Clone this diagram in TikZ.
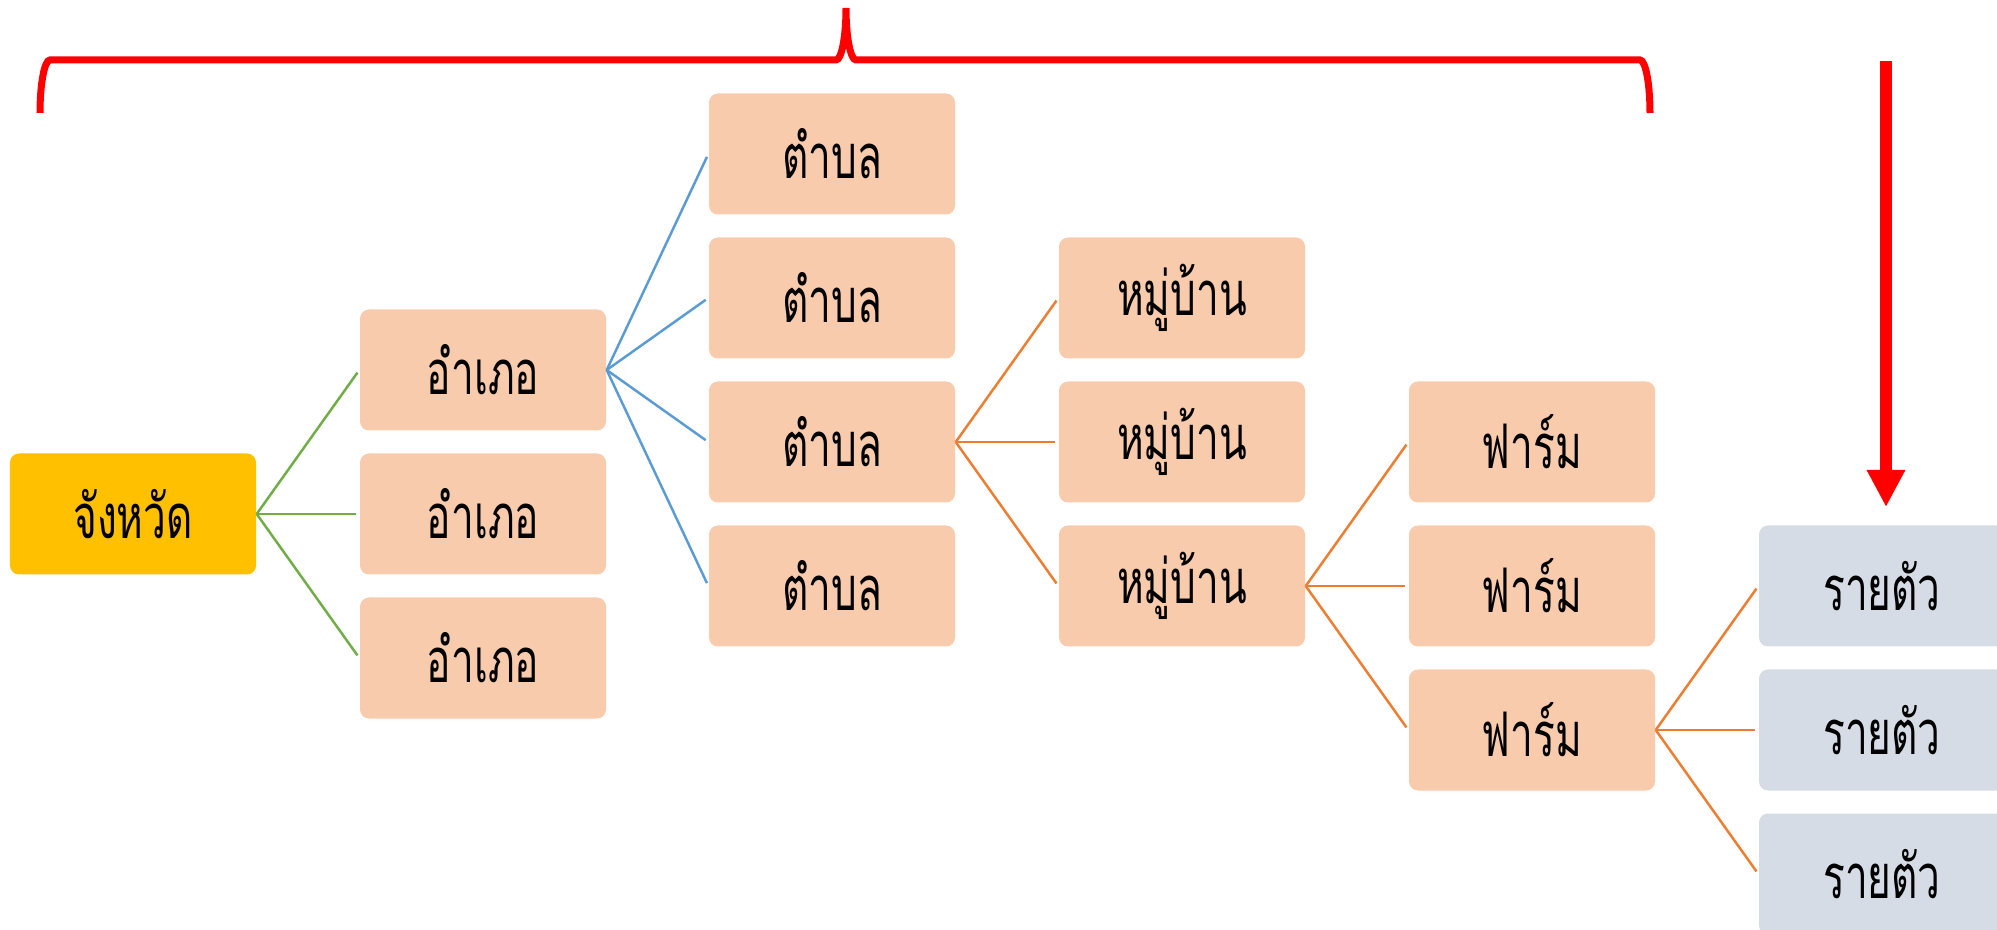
\documentclass[tikz,border=0pt]{standalone}
\usepackage{fontspec}
\usepackage{tikz}
\usetikzlibrary{arrows.meta}
\newfontfamily\thaifont[Script=Thai, FakeStretch=0.66]{Loma}
\definecolor{Gold}{HTML}{FFC000}
\definecolor{Peach}{HTML}{F8CBAD}
\definecolor{Slate}{HTML}{D6DCE5}
\definecolor{LeafGreen}{HTML}{70AD47}
\definecolor{SkyBlue}{HTML}{5B9BD5}
\definecolor{Tangerine}{HTML}{ED7D31}

\begin{document}
\begin{tikzpicture}[
    box/.style={rounded corners=0.09cm, minimum width=2.46cm, minimum height=1.21cm,
        inner sep=0pt, font=\thaifont\fontsize{17.5}{19}\selectfont},
    link/.style={line width=0.7pt, shorten >=0.9pt}
]
    % Page frame
    \clip (0,0) rectangle (19.97,-9.30);

    % Province
    \node[box, fill=Gold] (prov) at (1.33,-5.14) {จังหวัด};

    % Districts, sub-districts, villages, farms, animals
    \foreach \r [count=\i] in {-2,0,2} {
        \node[box, fill=Peach] (dist\i) at (4.83, {-5.14-0.72*\r}) {อำเภอ};
    }
    \foreach \r [count=\i] in {-5,-3,-1,1} {
        \node[box, fill=Peach] (sub\i) at (8.32, {-5.14-0.72*\r}) {ตำบล};
    }
    \foreach \r [count=\i] in {-3,-1,1} {
        \node[box, fill=Peach] (vil\i) at (11.82, {-5.14-0.72*\r}) {หมู่บ้าน};
    }
    \foreach \r [count=\i] in {-1,1,3} {
        \node[box, fill=Peach] (farm\i) at (15.32, {-5.14-0.72*\r}) {ฟาร์ม};
    }
    \foreach \r [count=\i] in {1,3,5} {
        \node[box, fill=Slate] (ani\i) at (18.82, {-5.14-0.72*\r}) {รายตัว};
    }

    % Branches
    \foreach \i in {1,2,3} {
        \draw[link, LeafGreen] (prov.east) -- (dist\i.west);
        \draw[link, Tangerine] (sub3.east) -- (vil\i.west);
        \draw[link, Tangerine] (vil3.east) -- (farm\i.west);
        \draw[link, Tangerine] (farm3.east) -- (ani\i.west);
    }
    \foreach \i in {1,...,4} {
        \draw[link, SkyBlue] (dist1.east) -- (sub\i.west);
    }

    % Brace over the upper levels
    \draw[red, line width=0.07cm]
        (0.40,-1.13) arc[start angle=180, end angle=90, x radius=0.10, y radius=0.53]
        -- (8.36,-0.60) arc[start angle=270, end angle=360, x radius=0.10, y radius=0.52]
        arc[start angle=180, end angle=270, x radius=0.10, y radius=0.52]
        -- (16.40,-0.60) arc[start angle=90, end angle=0, x radius=0.10, y radius=0.53];

    % Down arrow
    \coordinate (arrtop) at (18.86,-0.61);
    \coordinate (arrtip) at (18.86,-5.07);
    \draw[red, line width=0.12cm, -{Triangle[width=0.36cm,length=0.37cm]}] (arrtop) -- (arrtip);
\end{tikzpicture}
\end{document}
